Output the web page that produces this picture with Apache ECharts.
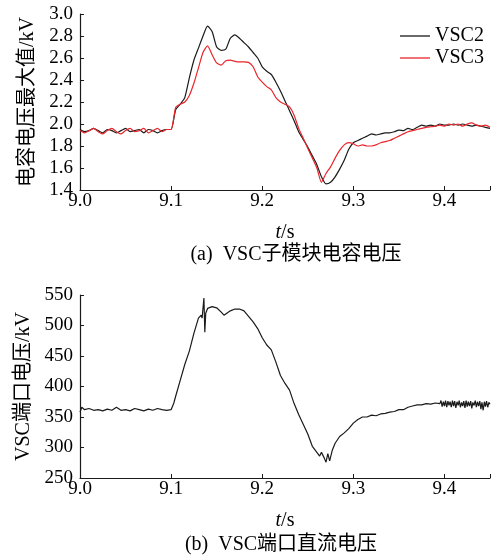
<!DOCTYPE html>
<html>
<head>
<meta charset="utf-8">
<script src="https://cdn.jsdelivr.net/npm/echarts@6/dist/echarts.min.js"></script>
<style>
html, body { margin: 0; padding: 0; background: #fff; }
#chart { width: 493px; height: 555px; }
</style>
</head>
<body>
<div id="chart"></div>
<script>
// (a) 子模块电容电压最大值, 时间步长 0.005 s
var tA = [];
for (var i = 0; i <= 90; i++) tA.push(+(9 + i * 0.005).toFixed(3));

var vsc2 = [
    1.95, 1.93, 1.94, 1.96, 1.94, 1.92, 1.95, 1.94, 1.92, 1.94,
    1.96, 1.93, 1.94, 1.95, 1.92, 1.95, 1.94, 1.92, 1.94, 1.95,
    1.95, 2.13, 2.18, 2.24, 2.42, 2.58, 2.69, 2.80, 2.89, 2.84,
    2.70, 2.67, 2.68, 2.78, 2.81, 2.78, 2.74, 2.70, 2.65, 2.60,
    2.52, 2.48, 2.45, 2.38, 2.30, 2.21, 2.12, 2.03, 1.93, 1.86,
    1.79, 1.71, 1.63, 1.52, 1.455, 1.47, 1.52, 1.59, 1.67, 1.77,
    1.83, 1.85, 1.87, 1.89, 1.91, 1.90, 1.91, 1.92, 1.92, 1.93,
    1.945, 1.94, 1.96, 1.95, 1.97, 1.99, 1.98, 1.99, 1.98, 2.00,
    1.99, 1.99, 2.00, 1.99, 2.00, 1.99, 1.98, 1.99, 1.98, 1.97,
    1.96
];
var vsc3 = [
    1.94, 1.92, 1.94, 1.96, 1.93, 1.91, 1.94, 1.96, 1.93, 1.91,
    1.94, 1.96, 1.93, 1.94, 1.96, 1.92, 1.94, 1.96, 1.93, 1.95,
    1.95, 2.15, 2.18, 2.20, 2.26, 2.37, 2.51, 2.65, 2.71, 2.63,
    2.555, 2.535, 2.575, 2.58, 2.57, 2.565, 2.565, 2.56, 2.52, 2.43,
    2.38, 2.34, 2.31, 2.24, 2.20, 2.18, 2.155, 2.08, 1.96, 1.87,
    1.78, 1.69, 1.60, 1.47, 1.55, 1.61, 1.69, 1.76, 1.81, 1.83,
    1.82, 1.80, 1.81, 1.80, 1.80, 1.81, 1.83, 1.84, 1.85, 1.87,
    1.89, 1.91, 1.93, 1.94, 1.95, 1.96, 1.97, 1.975, 1.98, 1.99,
    1.98, 2.00, 1.99, 2.00, 1.98, 2.00, 2.01, 1.99, 1.98, 1.99,
    1.97
];

// (b) VSC端口直流电压
var tB = [
    9.000, 9.002, 9.005, 9.010, 9.015, 9.020, 9.025, 9.030, 9.035, 9.040,
    9.045, 9.050, 9.055, 9.060, 9.065, 9.070, 9.075, 9.080, 9.085, 9.090,
    9.095, 9.100, 9.103, 9.105, 9.110, 9.115, 9.120, 9.125, 9.130, 9.133,
    9.134, 9.136, 9.137, 9.138, 9.140, 9.145, 9.150, 9.155, 9.158, 9.165,
    9.170, 9.175, 9.180, 9.185, 9.190, 9.195, 9.200, 9.205, 9.210, 9.215,
    9.220, 9.225, 9.230, 9.235, 9.240, 9.245, 9.250, 9.255, 9.260, 9.263,
    9.265, 9.268, 9.270, 9.272, 9.274, 9.277, 9.280, 9.285, 9.290, 9.295,
    9.300, 9.305, 9.310, 9.315, 9.320, 9.325, 9.330, 9.335, 9.340, 9.345,
    9.350, 9.355, 9.360, 9.365, 9.370, 9.375, 9.380, 9.385, 9.390, 9.395,
    9.3962, 9.3975, 9.3988, 9.400, 9.4012, 9.4025, 9.4038, 9.405, 9.4062, 9.4075,
    9.4088, 9.410, 9.4112, 9.4125, 9.4138, 9.415, 9.4162, 9.4175, 9.4188, 9.420,
    9.4212, 9.4225, 9.4238, 9.425, 9.4262, 9.4275, 9.4288, 9.430, 9.4312, 9.4325,
    9.4338, 9.435, 9.4362, 9.4375, 9.4388, 9.440, 9.4412, 9.4425, 9.4438, 9.445,
    9.4462, 9.4475, 9.4488, 9.450
];
var udc = [
    358, 366, 362, 364, 361, 362, 360, 363, 361, 366,
    361, 362, 360, 364, 362, 360, 363, 361, 364, 362,
    361, 362, 373, 384, 410, 436, 458, 487, 512, 517,
    512, 545, 489, 520, 528, 531, 529, 522, 517, 524,
    527, 527, 524, 515, 506, 495, 480, 468, 460, 440,
    418, 405, 394, 372, 354, 338, 322, 302, 292, 286,
    292, 283, 276, 290, 278, 296, 307, 318, 324, 331,
    340, 346, 350, 350, 353, 352, 355, 356, 358, 359,
    362, 362, 366, 368, 370, 370, 372, 371, 373, 372,
    377, 367, 375, 368, 377, 366, 376, 369, 375, 366,
    377, 368, 376, 365, 375, 369, 377, 366, 374, 368,
    376, 365, 377, 367, 375, 368, 376, 364, 374, 369,
    377, 366, 375, 368, 376, 363, 374, 361, 375, 367,
    376, 366, 374, 371
];

var xTicks = [9.0, 9.1, 9.2, 9.3, 9.4];

function pairs(t, v) {
    return t.map(function (x, k) { return [x, v[k]]; });
}

var FONT = '"Liberation Serif", "Noto Sans CJK SC", serif';
var black = '#1a1a1a';
var red = '#e8262b';

function xAxisOf(idx) {
    return {
        gridIndex: idx,
        type: 'value',
        min: 9.0,
        max: 9.45,
        interval: 0.1,
        name: '{i|t}/s',
        nameLocation: 'middle',
        nameGap: 33,
        nameTextStyle: {
            color: '#000', fontFamily: FONT, fontSize: 20,
            rich: { i: { fontStyle: 'italic', fontFamily: FONT, fontSize: 20, color: '#000' } }
        },
        axisLine: { show: true, lineStyle: { color: black, width: 1.2 } },
        axisTick: { show: true, inside: true, length: 4, lineStyle: { color: black } },
        splitLine: { show: false },
        axisLabel: {
            color: '#000', fontFamily: FONT, fontSize: 19, margin: 2,
            formatter: function (v) {
                for (var k = 0; k < xTicks.length; k++) {
                    if (Math.abs(v - xTicks[k]) < 1e-6) return xTicks[k].toFixed(1);
                }
                return '';
            }
        }
    };
}

function yAxisOf(idx, min, max, step, name, digits, gap) {
    return {
        gridIndex: idx,
        type: 'value',
        min: min,
        max: max,
        interval: step,
        name: name,
        nameLocation: 'middle',
        nameGap: gap,
        nameTextStyle: { color: '#000', fontFamily: FONT, fontSize: 20 },
        axisLine: { show: true, lineStyle: { color: black, width: 1.2 } },
        axisTick: { show: true, inside: true, length: 4, lineStyle: { color: black } },
        splitLine: { show: false },
        axisLabel: {
            color: '#000', fontFamily: FONT, fontSize: 19, margin: 7,
            formatter: function (v) { return v.toFixed(digits); }
        }
    };
}

var chart = echarts.init(document.getElementById('chart'));
chart.setOption({
    backgroundColor: '#fff',
    animation: false,
    grid: [
        { left: 80, top: 14, width: 413, height: 176 },
        { left: 80, top: 295, width: 413, height: 183 }
    ],
    xAxis: [xAxisOf(0), xAxisOf(1)],
    yAxis: [
        yAxisOf(0, 1.4, 3.0, 0.2, '电容电压最大值/kV', 1, 42),
        yAxisOf(1, 250, 550, 50, 'VSC端口电压/kV', 0, 42)
    ],
    legend: {
        orient: 'vertical',
        left: 395,
        top: 21,
        icon: 'rect',
        itemWidth: 30,
        itemHeight: 1.3,
        itemGap: 2,
        textStyle: { color: '#000', fontFamily: FONT, fontSize: 20 },
        data: ['VSC2', 'VSC3']
    },
    graphic: [
        {
            type: 'text', x: 296, y: 255,
            style: { text: '(a)  VSC子模块电容电压', font: '20px ' + FONT, fill: '#000', textAlign: 'center', textVerticalAlign: 'middle' }
        },
        {
            type: 'text', x: 281, y: 545,
            style: { text: '(b)  VSC端口直流电压', font: '20px ' + FONT, fill: '#000', textAlign: 'center', textVerticalAlign: 'middle' }
        }
    ],
    series: [
        {
            name: 'VSC2', type: 'line', xAxisIndex: 0, yAxisIndex: 0,
            data: pairs(tA, vsc2), symbol: 'none', smooth: 0.2,
            lineStyle: { color: black, width: 1.2 }, itemStyle: { color: black }
        },
        {
            name: 'VSC3', type: 'line', xAxisIndex: 0, yAxisIndex: 0,
            data: pairs(tA, vsc3), symbol: 'none', smooth: 0.2,
            lineStyle: { color: red, width: 1.2 }, itemStyle: { color: red }
        },
        {
            name: 'Udc', type: 'line', xAxisIndex: 1, yAxisIndex: 1,
            data: pairs(tB, udc), symbol: 'none',
            lineStyle: { color: black, width: 1.2 }, itemStyle: { color: black }
        }
    ]
});
</script>
</body>
</html>
